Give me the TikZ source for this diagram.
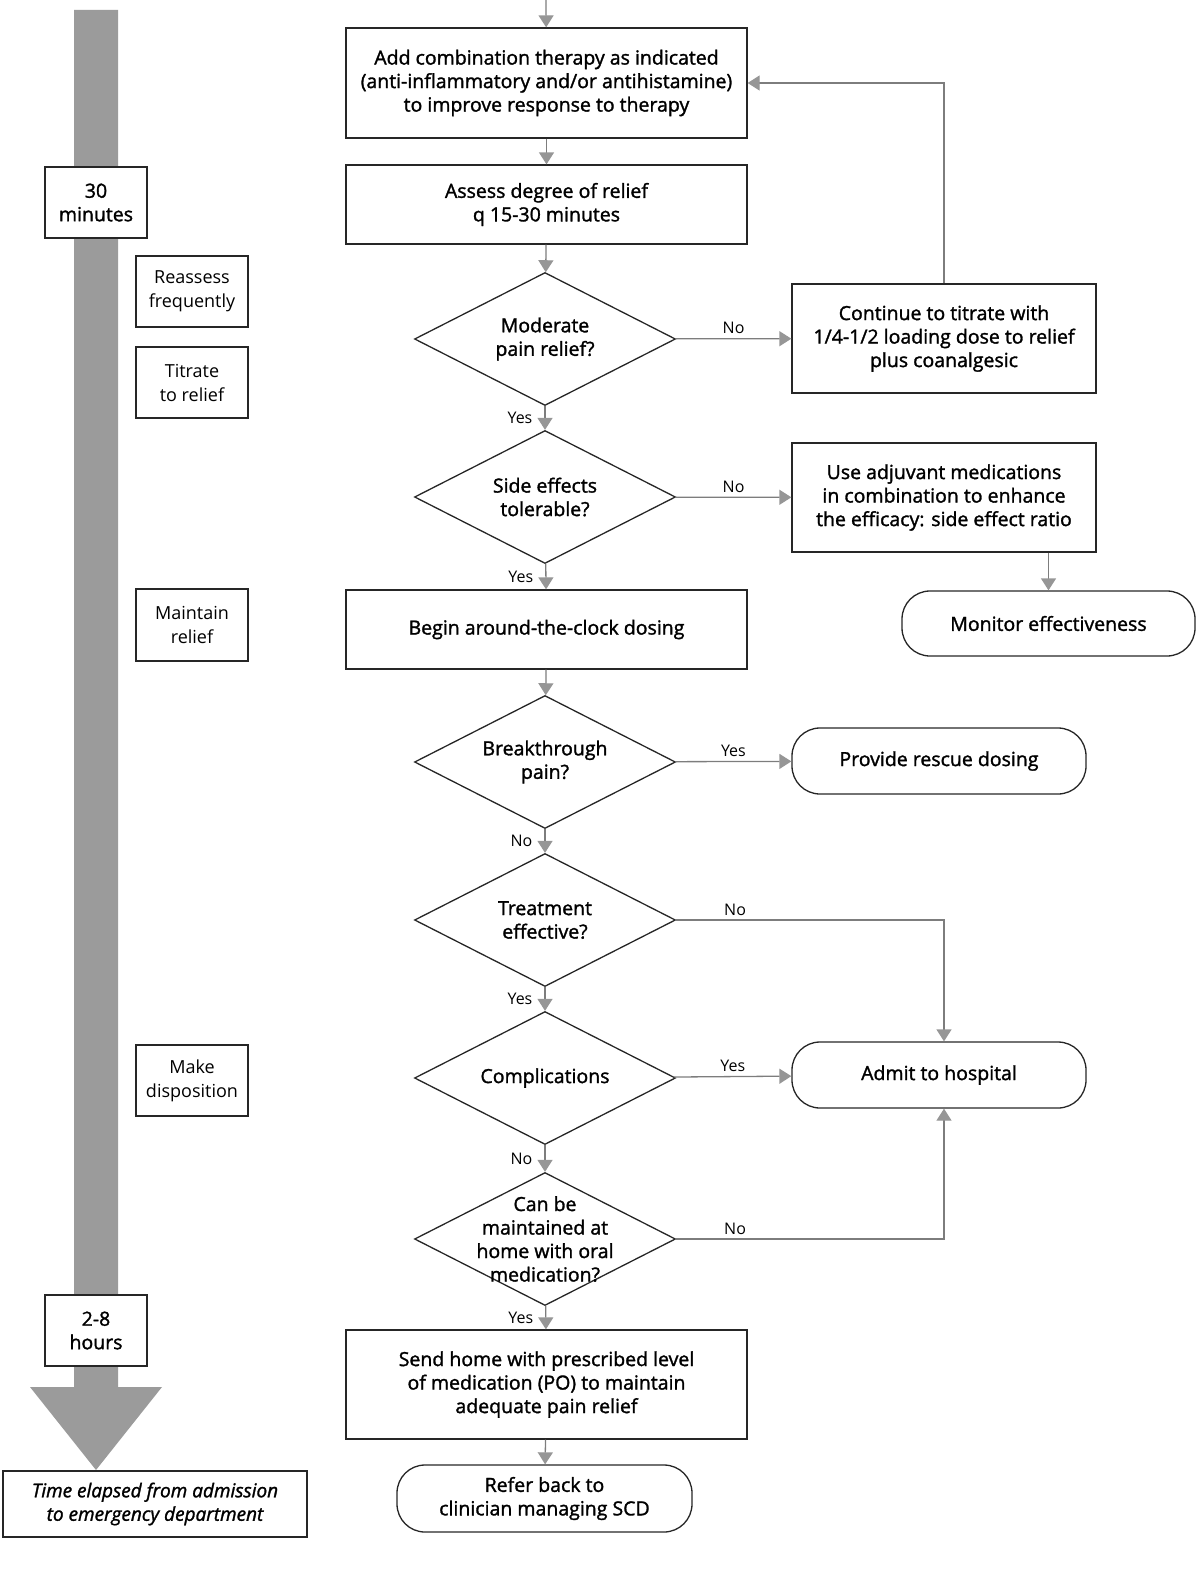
\documentclass[tikz,border=0pt]{standalone}
\usepackage{fontspec}
\setmainfont{Open Sans}[UprightFeatures={FakeBold=1.5}, ItalicFeatures={FakeBold=1.5}]
\newfontfamily\plainfont{Open Sans}
\usetikzlibrary{arrows.meta,shapes.geometric}
\definecolor{flowgray}{RGB}{125,125,125}
\definecolor{tipgray}{RGB}{150,150,150}
\definecolor{bargray}{RGB}{155,155,155}

\begin{document}
\begin{tikzpicture}[
    x=1pt, y=-1pt,
    font=\fontsize{19.5}{23.5}\selectfont,
    stepbox/.style={draw=black!85, line width=1.3pt, align=center, inner sep=0pt, minimum width=401pt},
    sidebox/.style={draw=black!85, line width=1.3pt, align=center, inner sep=0pt, minimum width=304pt, minimum height=109pt},
    endbox/.style={draw=black!85, line width=1.3pt, align=center, inner sep=0pt, rounded corners=28pt, minimum height=66pt},
    decision/.style={diamond, draw=black!85, line width=1.3pt, shape aspect=2, minimum width=261pt, minimum height=133pt, inner sep=0pt, align=center},
    timebox/.style={draw=black!85, line width=1.3pt, fill=white, minimum width=102pt, minimum height=71pt, inner sep=0pt, align=center},
    notebox/.style={draw=black!85, line width=1.3pt, minimum width=112pt, minimum height=71pt, inner sep=0pt, align=center, font=\plainfont\fontsize{18}{24}\selectfont},
    answer/.style={font=\plainfont\fontsize{16}{18}\selectfont, inner sep=4pt},
    flow/.style={draw=flowgray, line width=1.3pt, -{Triangle[width=15pt,length=12pt,color=tipgray]}}
]
\useasboundingbox (0,0) rectangle (1200,1571);

% time line on the left
\fill[bargray] (74,10) -- (118,10) -- (118,1387) -- (162,1387) -- (96,1470)
    -- (30,1387) -- (74,1387) -- cycle;
\node[timebox] (thirty) at (96,202.5) {30\\minutes};
\node[timebox] (eight) at (96,1330.5) {2-8\\hours};
\node[timebox, minimum width=304pt, minimum height=66pt, font=\fontsize{19}{23.5}\selectfont\itshape] (elapsed) at (155,1504) {Time elapsed from admission\\to emergency department};
\node[notebox] (reassess) at (192,291.5) {Reassess\\frequently};
\node[notebox] (titrate) at (192,382.5) {Titrate\\to relief};
\node[notebox, minimum height=72pt] (maintain) at (192,625) {Maintain\\relief};
\node[notebox] (dispose) at (192,1080.5) {Make\\disposition};

% main column
\coordinate (entry) at (546,0);
\node[stepbox, minimum height=110pt] (combo) at (546.5,83) {Add combination therapy as indicated\\(anti-inflammatory and/or antihistamine)\\to improve response to therapy};
\node[stepbox, minimum height=79pt] (assess) at (546.5,204.5) {Assess degree of relief\\q 15-30 minutes};
\node[decision] (relief) at (545,339) {Moderate\\pain relief?};
\node[decision] (side) at (545,497) {Side effects\\tolerable?};
\node[stepbox, minimum height=79pt] (clock) at (546.5,629.5) {Begin around-the-clock dosing};
\node[decision] (breakthru) at (545,762) {Breakthrough\\pain?};
\node[decision] (effective) at (545,920) {Treatment\\effective?};
\node[decision] (complic) at (545,1078) {Complications};
\node[decision, inner sep=-22pt] (home) at (545,1239) {Can be\\maintained at\\home with oral\\medication?};
\node[stepbox, minimum height=109pt] (sendhome) at (546.5,1384.5) {Send home with prescribed level\\of medication (PO) to maintain\\adequate pain relief};
\node[endbox, minimum width=295pt, minimum height=67pt] (refer) at (544.5,1498.5) {Refer back to\\clinician managing SCD};

% right column
\node[sidebox] (continue) at (944,338.5) {Continue to titrate with\\1/4-1/2 loading dose to relief\\plus coanalgesic};
\node[sidebox] (adjuvant) at (944,497.5) {Use adjuvant medications\\in combination to enhance\\the efficacy: side effect ratio};
\node[endbox, minimum width=293pt, minimum height=65pt] (monitor) at (1048.5,623.5) {Monitor effectiveness};
\node[endbox, minimum width=294pt] (rescue) at (939,761) {Provide rescue dosing};
\node[endbox, minimum width=294pt] (admit) at (939,1075) {Admit to hospital};

\draw[flow] (entry) -- (combo);
\draw[flow] (combo) -- (assess);
\draw[flow] (assess) -- (relief);
\draw[flow] (relief) -- node[answer, left=8pt] {Yes} (side);
\draw[flow] (relief) -- node[answer, above] {No} (continue);
\draw[flow] (continue.north) |- (combo.east);
\draw[flow] (side) -- node[answer, left=8pt] {Yes} (clock);
\draw[flow] (side) -- node[answer, above] {No} (adjuvant);
\draw[flow] (adjuvant.south -| monitor.north) -- (monitor.north);
\draw[flow] (clock) -- (breakthru);
\draw[flow] (breakthru) -- node[answer, above] {Yes} (rescue);
\draw[flow] (breakthru) -- node[answer, left=8pt] {No} (effective);
\draw[flow] (effective.east) -| node[answer, above, pos=0.11] {No} (continue.north |- admit.north);
\draw[flow] (effective) -- node[answer, left=8pt] {Yes} (complic);
\draw[flow] (complic) -- node[answer, above] {Yes} (admit);
\draw[flow] (complic) -- node[answer, left=8pt] {No} (home);
\draw[flow] (home.east) -| node[answer, above, pos=0.11] {No} (continue.south |- admit.south);
\draw[flow] (home) -- node[answer, left=8pt] {Yes} (sendhome);
\draw[flow] (sendhome) -- (refer);
\end{tikzpicture}
\end{document}
